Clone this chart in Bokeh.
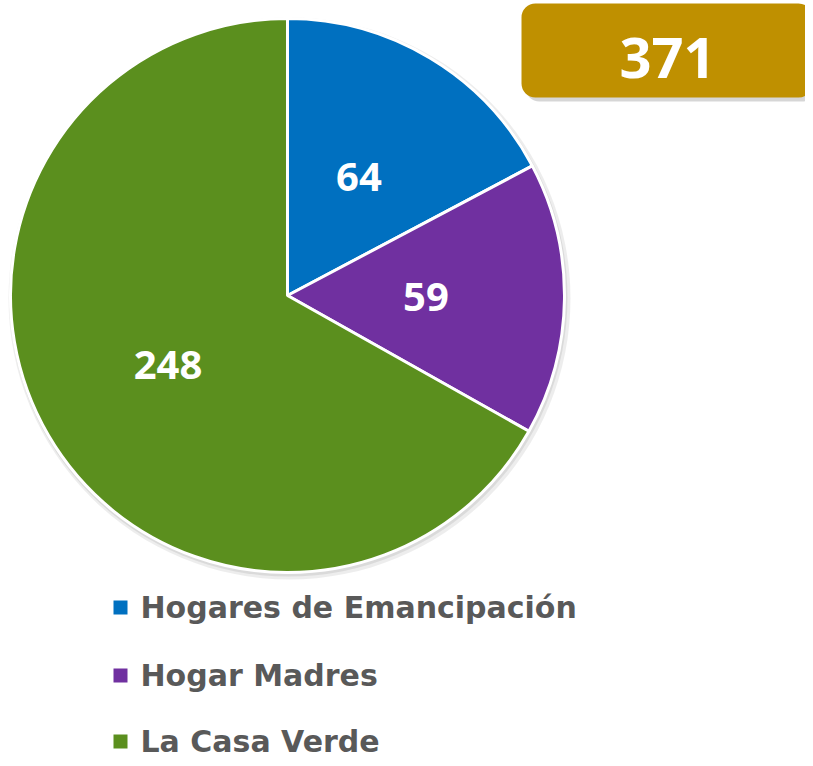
import math
from bokeh.plotting import figure
from bokeh.models import Range1d, BoxAnnotation, ColumnDataSource, Label
from bokeh.core.properties import value
from bokeh.embed import file_html
from bokeh.resources import INLINE

categories = ["Hogares de Emancipación", "Hogar Madres", "La Casa Verde"]
values = [64, 59, 248]
colors = ["#0070C0", "#7030A0", "#5B8F1E"]
total = sum(values)

W, H = 805, 758
p = figure(width=W, height=H, output_backend="svg", toolbar_location=None,
           x_range=Range1d(0, W), y_range=Range1d(766 - H, 766), min_border=0,
           outline_line_color=None)
p.axis.visible = False
p.grid.visible = False
p.background_fill_color = "white"

# screen pixel -> data: x = px, y = 766 - py
cx, cy, R = 287, 766 - 295, 277

starts, ends, lx, ly, labels = [], [], [], [], []
a = math.pi / 2
for v in values:
    span = 2 * math.pi * v / total
    starts.append(a - span)
    ends.append(a)
    mid = a - span / 2
    lx.append(cx + 0.5 * R * math.cos(mid))
    ly.append(cy + 0.5 * R * math.sin(mid))
    labels.append(str(v))
    a -= span

# soft shadow
p.circle(x=[cx + 2], y=[cy - 3], radius=R + 4, fill_color="#000000", fill_alpha=0.07, line_color=None)
p.circle(x=[cx + 1], y=[cy - 2], radius=R + 2, fill_color="#000000", fill_alpha=0.08, line_color=None)

src = ColumnDataSource(dict(start=starts, end=ends, color=colors))
p.wedge(x=cx, y=cy, radius=R, start_angle="start", end_angle="end", fill_color="color",
        line_color="white", line_width=3, source=src)

p.text(x=lx, y=ly, text=labels, text_color="white", text_font=value("Open Sans"),
       text_font_style="bold", text_font_size="40px", text_align="center", text_baseline="middle")

# total badge
p.add_layout(BoxAnnotation(left=525, right=816, top=766 - 7, bottom=766 - 101, border_radius=14,
                           fill_color="#000000", fill_alpha=0.16, line_color=None))
p.add_layout(BoxAnnotation(left=521, right=812, top=766 - 3, bottom=766 - 97, border_radius=14,
                           fill_color="#BF9000", fill_alpha=1.0, line_color=None))
p.add_layout(Label(x=667, y=766 - 57, text=str(total), text_color="white", text_font="Open Sans",
                   text_font_style="bold", text_font_size="56px", text_align="center",
                   text_baseline="middle"))

# legend
leg_y = [766 - 607, 766 - 675, 766 - 741]
p.scatter(x=[120] * 3, y=leg_y, marker="square", size=14, fill_color=colors, line_color=None)
p.text(x=[140] * 3, y=leg_y, text=categories, text_color="#595959", text_font=value("DejaVu Sans"),
       text_font_style="bold", text_font_size="30px", text_align="left", text_baseline="middle")

open("out.html", "w").write(file_html(p, INLINE))
